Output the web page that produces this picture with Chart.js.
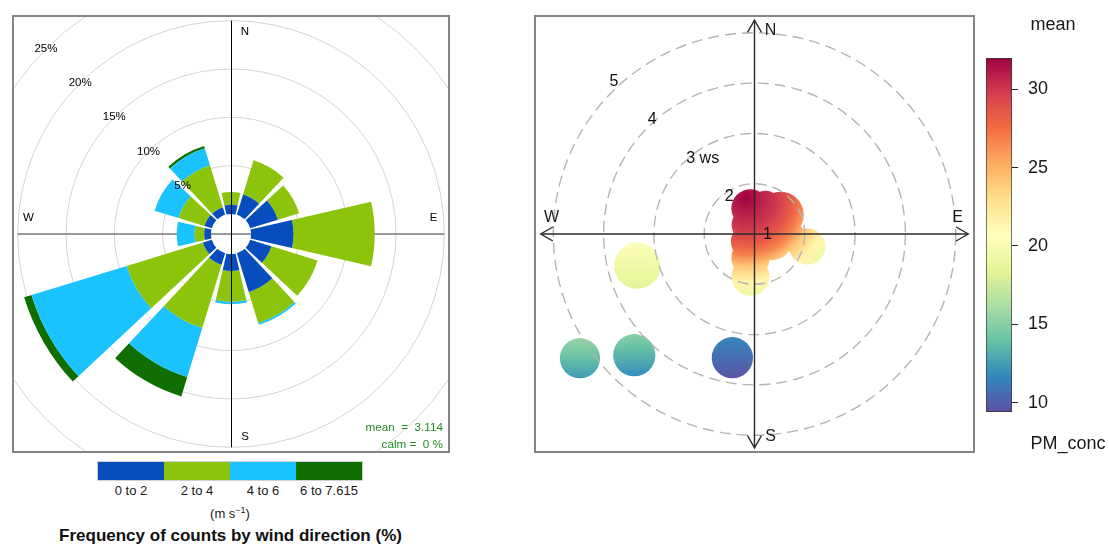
<!DOCTYPE html>
<html>
<head>
<meta charset="utf-8">
<title>Wind rose and PM_conc polar plot</title>
<script src="https://cdn.jsdelivr.net/npm/chart.js@4.4.1/dist/chart.umd.min.js"></script>
<style>
  html, body { margin: 0; padding: 0; background: #fff; }
  body { width: 1109px; height: 545px; position: relative; overflow: hidden;
         font-family: "Liberation Sans", Arial, Helvetica, sans-serif; color: #000; }
  .frame { position: absolute; box-sizing: border-box; border: 2px solid #858585; pointer-events: none; }
  #roseClip { position: absolute; left: 12px; top: 15px; width: 438px; height: 438px; overflow: hidden; }
  #roseCanvas { position: absolute; left: -91px; top: -91px; }
  #polarCanvas { position: absolute; left: 534px; top: 15px; }
  #barCanvas { position: absolute; left: 976px; top: 48px; }
  .stat { position: absolute; left: 343px; width: 100px; text-align: right; color: #228B22;
          font-size: 11.7px; line-height: 14px; white-space: pre; }
  .keyLab { position: absolute; top: 483px; width: 66px; text-align: center; font-size: 13px;
            line-height: 16px; color: #1a1a1a; }
  .txt { position: absolute; white-space: nowrap; color: #1a1a1a; }
</style>
</head>
<body>

<div id="roseClip"><canvas id="roseCanvas" width="620" height="620"></canvas></div>
<div class="frame" style="left:12px;top:15px;width:438px;height:438px"></div>
<div class="stat" id="meanTxt" style="top:420px"></div>
<div class="stat" id="calmTxt" style="top:437px"></div>
<div id="roseKey"></div>
<div class="txt" style="left:130px;width:200px;text-align:center;top:506px;font-size:13px;line-height:16px">(m s<sup style="font-size:9px;line-height:0">−1</sup>)</div>
<div class="txt" style="left:0px;width:461px;text-align:center;top:526px;font-size:17px;line-height:20px;font-weight:bold;color:#111">Frequency of counts by wind direction (%)</div>

<canvas id="polarCanvas" width="441" height="438"></canvas>
<div class="frame" style="left:534px;top:15px;width:441px;height:438px"></div>
<canvas id="barCanvas" width="96" height="374"></canvas>
<div class="txt" style="left:1012px;width:82px;text-align:center;top:13px;font-size:18px;line-height:22px">mean</div>
<div class="txt" style="left:1020px;width:96px;text-align:center;top:432px;font-size:18px;line-height:22px">PM_conc</div>

<script>
// ---------------- wind rose data ----------------
const windDir = [0, 30, 60, 90, 120, 150, 180, 210, 240, 270, 300, 330];
const speedBins = ['0 to 2', '2 to 4', '4 to 6', '6 to 7.615'];
const binColours = ['#084dbe', '#8bc40a', '#1ac2ff', '#0f6e00'];
// frequency of counts (%) in each speed bin, per 30-degree sector
const freq0to2 = [0.96, 2.2, 3.0, 4.4, 2.3, 4.2, 1.75, 1.25, 0.96, 0.7, 0.8, 0.8];
const freq2to4 = [1.31, 3.7, 2.3, 8.4, 5.0, 3.35, 3.2, 6.85, 8.25, 1.0, 2.8, 4.55];
const freq4to6 = [0, 0, 0, 0, 0, 0.2, 0.25, 5.3, 10.3, 1.85, 2.6, 1.85];
const freq6to8 = [0, 0, 0, 0, 0, 0, 0, 2.1, 0.8, 0, 0, 0.25];
const roseGridTicks = [5, 10, 15, 20, 25];
const roseMeanSpeed = 3.114;
const roseCalm = 0;

// ---------------- polar plot data (PM_conc) ----------------
const concRange = [9.4, 32];
const colourTicks = [10, 15, 20, 25, 30];
const ringSpeeds = [2, 3, 4, 5];
const ringLabelSpeeds = [1, 2, 3, 4, 5];
// isolated patches: east / north offset from the 1 m/s centre, radius, conc at top and bottom
const spotX = [-2.33, -3.47, -2.39, -0.44];
const spotY = [-0.63, -2.47, -2.41, -2.46];
const spotR = [0.46, 0.40, 0.42, 0.41];
const spotTop = [20.3, 15.5, 15.0, 11.6];
const spotBottom = [18.3, 12.3, 11.8, 9.6];
// low-wind core: overlapping patches sharing one concentration field
const coreX = [-0.08, 0.52, 0.22, -0.11, -0.11, 0.35, 1.05, 0.70, -0.08, -0.08];
const coreY = [0.51, 0.38, 0.58, 0.18, -0.15, -0.12, -0.25, -0.05, -0.48, -0.85];
const coreR = [0.38, 0.46, 0.28, 0.345, 0.36, 0.40, 0.36, 0.30, 0.38, 0.38];
const corePeak = [-0.18, 0.71];
const coreDist = [0, 0.27, 0.60, 0.93, 1.13, 1.36, 1.66, 1.92];
const coreConc = [32, 31, 30, 28.3, 26.7, 24, 21.5, 19.3];

// ---------------- layout constants ----------------
const sectorWidth = 26, sectorGap = 4;     // degrees
const roseMin = -2.07, roseMax = 30;       // radial range (%), negative part leaves the calm hole
const roseAxisExtent = 20;                 // compass lines reach this frequency
const wsCentre = 1;                        // wind speed at the plot centre
const polarExtentX = 4.384, polarExtentY = 4.354;
const arrowReach = 4.25;
const labelFont = '"Liberation Sans", Arial, Helvetica, sans-serif';

// ---------------- colour scale ----------------
const spectral = ['#5E4FA2', '#3288BD', '#66C2A5', '#ABDDA4', '#E6F598', '#FFFFBF',
                  '#FEE08B', '#FDAE61', '#F46D43', '#D53E4F', '#9E0142'];
function hexRgb(h) { const n = parseInt(h.slice(1), 16); return [(n >> 16) & 255, (n >> 8) & 255, n & 255]; }
function concColour(v) {
  let t = (v - concRange[0]) / (concRange[1] - concRange[0]);
  t = Math.max(0, Math.min(1, t)) * (spectral.length - 1);
  const i = Math.min(Math.floor(t), spectral.length - 2);
  const f = t - i;
  const a = hexRgb(spectral[i]), b = hexRgb(spectral[i + 1]);
  const c = a.map((x, j) => Math.round(x + (b[j] - x) * f));
  return 'rgb(' + c.join(',') + ')';
}
const allFinite = (...v) => v.every(Number.isFinite);

// ================= wind rose =================
const roseBins = [freq0to2, freq2to4, freq4to6, freq6to8];
const stacked = [];
let running = windDir.map(() => 0);
roseBins.forEach(bin => {
  const lower = running.slice();
  running = running.map((v, i) => v + bin[i]);
  stacked.push({ lower, upper: running.slice() });
});
// each sector is followed by a narrow empty slot that forms the gap
function withGaps(arr) { const out = []; arr.forEach(v => { out.push(v); out.push(0); }); return out; }
const roseLabels = [];
windDir.forEach(d => { roseLabels.push(d + '°'); roseLabels.push(''); });

const roseDatasets = roseBins.map((bin, k) => ({
  label: speedBins[k],
  data: withGaps(stacked[k].upper),
  base: withGaps(stacked[k].lower),
  backgroundColor: c => (c.dataIndex % 2 ? 'rgba(0,0,0,0)' : binColours[k]),
  borderWidth: 0,
  angle: c => (c.dataIndex % 2 ? sectorGap : sectorWidth)
}));

const roseDecor = {
  id: 'roseDecor',
  afterDatasetsUpdate(chart) {
    const r = chart.scales.r;
    chart.data.datasets.forEach((ds, k) => {
      chart.getDatasetMeta(k).data.forEach((arc, i) => {
        arc.innerRadius = r.getDistanceFromCenterForValue(ds.base[i]);
      });
    });
  },
  beforeDatasetsDraw(chart) {
    const r = chart.scales.r, ctx = chart.ctx;
    const L = r.getDistanceFromCenterForValue(roseAxisExtent);
    ctx.save();
    ctx.strokeStyle = '#7a7a7a';
    ctx.lineWidth = 1.5;
    ctx.beginPath();
    ctx.moveTo(r.xCenter - L, r.yCenter);
    ctx.lineTo(r.xCenter + L, r.yCenter);
    ctx.stroke();
    ctx.restore();
  },
  afterDatasetsDraw(chart) {
    const r = chart.scales.r, ctx = chart.ctx;
    const xc = r.xCenter, yc = r.yCenter;
    const L = r.getDistanceFromCenterForValue(roseAxisExtent);
    ctx.save();
    ctx.strokeStyle = '#000';
    ctx.lineWidth = 1;
    ctx.beginPath();
    ctx.moveTo(xc + 0.5, yc - L);
    ctx.lineTo(xc + 0.5, yc + L);
    ctx.stroke();

    ctx.fillStyle = '#000';
    ctx.font = '11.5px ' + labelFont;
    ctx.textAlign = 'center';
    ctx.textBaseline = 'middle';
    roseGridTicks.forEach(v => {
      const d = r.getDistanceFromCenterForValue(v) * Math.SQRT1_2;
      ctx.fillText(v + '%', xc - d, yc - d);
    });
    const c = 0.95 * L;
    ctx.fillText('N', xc + 14, yc - c);
    ctx.fillText('S', xc + 14, yc + c);
    ctx.fillText('E', xc + c, yc - 16);
    ctx.fillText('W', xc - c, yc - 16);
    ctx.restore();
  }
};

new Chart(document.getElementById('roseCanvas'), {
  type: 'polarArea',
  data: { labels: roseLabels, datasets: roseDatasets },
  options: {
    responsive: false,
    animation: false,
    events: [],
    layout: { padding: 0 },
    plugins: { legend: { display: false }, tooltip: { enabled: false } },
    scales: {
      r: {
        min: roseMin,
        max: roseMax,
        startAngle: -sectorWidth / 2,
        ticks: { display: false, stepSize: 5 },
        grid: {
          circular: true,
          lineWidth: 1,
          color: c => (c.tick && c.tick.value > 0 ? '#d4d4d4' : 'rgba(0,0,0,0)')
        },
        angleLines: { display: false },
        pointLabels: { display: false }
      }
    }
  },
  plugins: [roseDecor]
});

document.getElementById('meanTxt').textContent = 'mean  =  ' + roseMeanSpeed.toFixed(3);
document.getElementById('calmTxt').textContent = 'calm =  ' + roseCalm + ' %';

// colour key for the speed bins
const keyBox = document.getElementById('roseKey');
speedBins.forEach((lab, k) => {
  const sw = document.createElement('div');
  sw.style.cssText = 'position:absolute;top:462px;height:18px;width:66px;left:' + (98 + 66 * k) +
                     'px;background:' + binColours[k] + ';';
  keyBox.appendChild(sw);
  const tx = document.createElement('div');
  tx.className = 'keyLab';
  tx.style.left = (98 + 66 * k) + 'px';
  tx.textContent = lab;
  keyBox.appendChild(tx);
});
const keyEdge = document.createElement('div');
keyEdge.style.cssText = 'position:absolute;left:97px;top:461px;width:264px;height:18px;border:1px solid #d0d0d0;';
keyBox.appendChild(keyEdge);

// ================= polar plot =================
function unitPx(chart) {
  const xs = chart.scales.x;
  if (!xs) return 0;
  const u = xs.getPixelForValue(1) - xs.getPixelForValue(0);
  return Number.isFinite(u) ? u : 0;
}

const corePoints = coreX.map((x, i) => ({ x, y: coreY[i] }));
const spotPoints = spotX.map((x, i) => ({ x, y: spotY[i] }));

const polarDecor = {
  id: 'polarDecor',
  afterDatasetsDraw(chart) {
    const ctx = chart.ctx, xs = chart.scales.x, ys = chart.scales.y;
    const u = unitPx(chart);
    const xc = xs.getPixelForValue(0), yc = ys.getPixelForValue(0);
    ctx.save();
    // dashed wind-speed rings
    ctx.strokeStyle = '#b4b4b4';
    ctx.lineWidth = 1.4;
    ctx.setLineDash([11, 6]);
    ringSpeeds.forEach(ws => {
      ctx.beginPath();
      ctx.arc(xc, yc, (ws - wsCentre) * u, 0, Math.PI * 2);
      ctx.stroke();
    });
    ctx.setLineDash([]);
    // compass arrows
    const A = arrowReach * u, head = 14, spread = Math.PI / 6;
    ctx.strokeStyle = '#2b2b2b';
    ctx.lineWidth = 1.4;
    ctx.beginPath();
    ctx.moveTo(xc, yc - A); ctx.lineTo(xc, yc + A);
    ctx.moveTo(xc - A, yc); ctx.lineTo(xc + A, yc);
    ctx.stroke();
    [[0, -1], [0, 1], [-1, 0], [1, 0]].forEach(([dx, dy]) => {
      const tx = xc + dx * A, ty = yc + dy * A;
      const ang = Math.atan2(-dy, -dx);
      ctx.beginPath();
      ctx.moveTo(tx + head * Math.cos(ang - spread), ty + head * Math.sin(ang - spread));
      ctx.lineTo(tx, ty);
      ctx.lineTo(tx + head * Math.cos(ang + spread), ty + head * Math.sin(ang + spread));
      ctx.stroke();
    });
    // compass letters
    ctx.fillStyle = '#1a1a1a';
    ctx.font = '16px ' + labelFont;
    ctx.textAlign = 'center';
    ctx.textBaseline = 'middle';
    const c = 0.95 * A;
    ctx.fillText('N', xc + 16, yc - c);
    ctx.fillText('S', xc + 16, yc + c);
    ctx.fillText('E', xc + c, yc - 16);
    ctx.fillText('W', xc - c, yc - 16);
    // wind-speed labels along the north-west diagonal
    ctx.textAlign = 'left';
    ctx.fillStyle = '#111';
    ringLabelSpeeds.forEach(ws => {
      const d = (ws - wsCentre) * u * 1.08 * Math.SQRT1_2;
      const px = xc + 13 - d, py = yc + 1 - d;
      const num = String(ws);
      const w = ctx.measureText(num).width;
      ctx.fillText(ws === 3 ? num + ' ws' : num, px - w / 2, py);
    });
    ctx.restore();
  }
};

new Chart(document.getElementById('polarCanvas'), {
  type: 'scatter',
  data: {
    datasets: [
      {
        label: 'core',
        data: corePoints,
        pointRadius: c => unitPx(c.chart) * coreR[c.dataIndex],
        pointBorderWidth: 0,
        pointBackgroundColor: c => {
          const chart = c.chart, xs = chart.scales.x, ys = chart.scales.y;
          const fallback = concColour(coreConc[2]);
          if (!xs || !ys) return fallback;
          const cx = xs.getPixelForValue(corePeak[0]), cy = ys.getPixelForValue(corePeak[1]);
          const dMax = coreDist[coreDist.length - 1];
          const R = dMax * unitPx(chart);
          if (!allFinite(cx, cy, R) || R <= 0) return fallback;
          const g = chart.ctx.createRadialGradient(cx, cy, 0, cx, cy, R);
          coreDist.forEach((d, i) => g.addColorStop(d / dMax, concColour(coreConc[i])));
          return g;
        }
      },
      {
        label: 'spots',
        data: spotPoints,
        pointRadius: c => unitPx(c.chart) * spotR[c.dataIndex],
        pointBorderWidth: 0,
        pointBackgroundColor: c => {
          const chart = c.chart, xs = chart.scales.x, ys = chart.scales.y, i = c.dataIndex;
          const fallback = concColour(spotTop[i]);
          if (!xs || !ys) return fallback;
          const px = xs.getPixelForValue(spotX[i]), py = ys.getPixelForValue(spotY[i]);
          const r = unitPx(chart) * spotR[i];
          if (!allFinite(px, py, r) || r <= 0) return fallback;
          const g = chart.ctx.createLinearGradient(px, py - r, px, py + r);
          for (let s = 0; s <= 4; s++) {
            g.addColorStop(s / 4, concColour(spotTop[i] + (spotBottom[i] - spotTop[i]) * s / 4));
          }
          return g;
        }
      }
    ]
  },
  options: {
    responsive: false,
    animation: false,
    events: [],
    layout: { padding: 0 },
    plugins: { legend: { display: false }, tooltip: { enabled: false } },
    scales: {
      x: { type: 'linear', min: -polarExtentX, max: polarExtentX, display: false },
      y: { type: 'linear', min: -polarExtentY, max: polarExtentY, display: false }
    }
  },
  plugins: [polarDecor]
});

// ================= colour bar =================
new Chart(document.getElementById('barCanvas'), {
  type: 'bar',
  data: {
    labels: ['PM_conc'],
    datasets: [{
      data: [concRange],
      backgroundColor: c => {
        const a = c.chart.chartArea;
        if (!a || !allFinite(a.top, a.bottom)) return spectral[5];
        const g = c.chart.ctx.createLinearGradient(0, a.bottom, 0, a.top);
        spectral.forEach((col, i) => g.addColorStop(i / (spectral.length - 1), col));
        return g;
      },
      borderColor: '#333',
      borderWidth: 1,
      borderSkipped: false,
      barPercentage: 1,
      categoryPercentage: 1
    }]
  },
  options: {
    responsive: false,
    animation: false,
    events: [],
    layout: { padding: { left: 10, top: 10, bottom: 10, right: 0 } },
    plugins: { legend: { display: false }, tooltip: { enabled: false } },
    scales: {
      x: { display: false },
      y: {
        position: 'right',
        min: concRange[0],
        max: concRange[1],
        afterBuildTicks: s => { s.ticks = colourTicks.map(v => ({ value: v })); },
        afterFit: s => { s.width = 60; s.paddingTop = 0; s.paddingBottom = 0; },
        ticks: { padding: 10, color: '#1a1a1a', font: { size: 18, family: labelFont } },
        grid: { drawOnChartArea: false, drawTicks: true, tickLength: 6, color: '#222', lineWidth: 1 },
        border: { display: false }
      }
    }
  }
});
</script>
</body>
</html>
